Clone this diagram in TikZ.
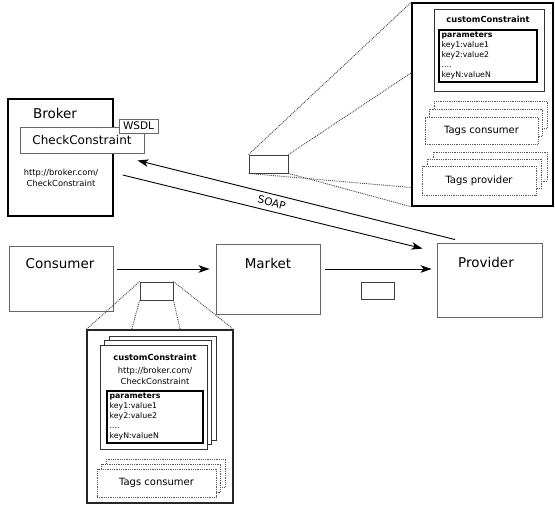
\documentclass[tikz,border=0pt]{standalone}
\usepackage{fontspec}
\setmainfont{DejaVu Sans}
\usepackage{tikz}
\usetikzlibrary{calc, positioning, arrows.meta}

\newcommand{\bigtxt}{\fontsize{13.5}{16}\selectfont}
\newcommand{\midtxt}{\fontsize{12}{14}\selectfont}
\newcommand{\labtxt}{\fontsize{10.5}{12}\selectfont}
\newcommand{\tagtxt}{\fontsize{10}{12}\selectfont}
\newcommand{\smalltxt}{\fontsize{8.3}{11}\selectfont}
\newcommand{\tinytxt}{\fontsize{7.8}{10}\selectfont}

\begin{document}
\begin{tikzpicture}[x = 1pt, y = -1pt,
		box/.style = {draw = black!60, line width = 0.9pt, inner sep = 0pt},
		frame/.style = {draw = black, line width = 1.5pt, inner sep = 0pt},
		card/.style = {draw = black!80, fill = white, line width = 0.9pt, inner sep = 0pt},
		tagcard/.style = {draw = black!65, fill = white, densely dotted, line width = 0.8pt, inner sep = 0pt, font = \tagtxt},
		zoomline/.style = {draw = black!75, densely dotted, line width = 0.9pt},
		flow/.style = {-{Stealth[length = 11pt, width = 7.5pt, inset = 3pt]}, line width = 0.9pt}]

			\useasboundingbox (0,0) rectangle (555,506);

			% broker
			\node [frame, minimum width = 105pt, minimum height = 117pt] (broker) at (60.5,157.5) {};
			\node [font = \bigtxt] (brokertxt) at (55,113) {Broker};
			\node [box, fill = white, minimum width = 124pt, minimum height = 26pt, font = \midtxt] (check) at (82,140) {CheckConstraint};
			\node [box, fill = white, minimum width = 39pt, minimum height = 14pt, font = \labtxt] (wsdl) at (138.5,126) {WSDL};
			\node [font = \smalltxt, align = center] (brokerurl) at (61,177.5) {http://broker.com/\\CheckConstraint};

			% consumer, market, provider
			\node [box, minimum width = 104pt, minimum height = 65pt] (consumer) at (61,278.5) {};
			\node [font = \bigtxt] (consumertxt) at (60,264) {Consumer};
			\node [box, minimum width = 104pt, minimum height = 70pt] (market) at (268,279) {};
			\node [font = \bigtxt] (markettxt) at (268,263) {Market};
			\node [box, minimum width = 105pt, minimum height = 74pt] (provider) at (489.5,280) {};
			\node [font = \bigtxt] (providertxt) at (486,262) {Provider};

			% messages
			\node [box, draw = black!75, minimum width = 33pt, minimum height = 18pt] (msgc) at (156.5,291) {};
			\node [box, draw = black!75, minimum width = 33pt, minimum height = 17pt] (msgm) at (377.5,290.5) {};
			\node [box, draw = black!75, minimum width = 39pt, minimum height = 18pt] (msgb) at (268.5,164) {};

			\draw [flow] ([shift = {(4,-9.5)}]consumer.east) -- ([shift = {(-6,-10)}]market.west);
			\draw [flow] ([shift = {(5,-10)}]market.east) -- ([shift = {(-5,-11)}]provider.west);
			\draw [flow] ([shift = {(-34.5,-3)}]provider.north) -- ([shift = {(-7,7)}]check.south east);
			\draw [flow] ([shift = {(9,17.5)}]broker.east) -- ([shift = {(-14,6)}]provider.north west)
				node [pos = 0.49, sloped, above = 1pt, font = \labtxt] (soap) {SOAP};

			% detail of the broker message
			\node [frame, minimum width = 141pt, minimum height = 203pt] (detailb) at (482.5,104.5) {};
			\node [card, minimum width = 110pt, minimum height = 82pt] (ccb) at (489,50) {};
			\node [font = \smalltxt\bfseries] (ccbtxt) at (488,19) {customConstraint};
			\node [card, draw = black, line width = 1.2pt, minimum width = 98pt, minimum height = 52pt] (parb) at (488,56) {};
			\node [anchor = north west, inner sep = 0pt, align = left, font = \tinytxt] (parbtxt) at ($(parb.north west)+(3,2)$)
				{\textbf{parameters}\\key1:value1\\key2:value2\\....\\keyN:valueN};

			\foreach \s in {2,1}
			{
				\draw [tagcard] (425+4.5*\s,117-8*\s) rectangle ++(113,27);
			}
			\node [tagcard, minimum width = 113pt, minimum height = 27pt] (tagsb) at (481.5,130.5) {Tags consumer};

			\foreach \s in {2,1}
			{
				\draw [tagcard] (422+5.5*\s,166-7*\s) rectangle ++(114,29);
			}
			\node [tagcard, minimum width = 114pt, minimum height = 29pt] (tagpb) at (479,180.5) {Tags provider};

			\draw [zoomline] (msgb.north west) -- (detailb.north west);
			\draw [zoomline] (msgb.north east) -- ($(detailb.north west)!0.345!(detailb.south west)$);
			\draw [zoomline] (msgb.south west) -- ($(detailb.north west)!0.906!(detailb.south west)$);
			\draw [zoomline] (msgb.south east) -- (detailb.south west);

			% detail of the consumer message
			\node [box, draw = black!85, line width = 1.2pt, minimum width = 146pt, minimum height = 173pt] (detailc) at (160,416.5) {};
			\foreach \s in {2,1}
			{
				\draw [card] (100+4.5*\s,345-4.5*\s) rectangle ++(107,104);
			}
			\node [card, minimum width = 107pt, minimum height = 104pt] (ccc) at (153.5,397) {};
			\node [font = \smalltxt\bfseries] (ccctxt) at (155,357) {customConstraint};
			\node [font = \smalltxt, align = center] (cccurl) at (155,375.5) {http://broker.com/\\CheckConstraint};
			\node [card, draw = black, line width = 1.2pt, minimum width = 96pt, minimum height = 52pt] (parc) at (155,417) {};
			\node [anchor = north west, inner sep = 0pt, align = left, font = \tinytxt] (parctxt) at ($(parc.north west)+(3,2)$)
				{\textbf{parameters}\\key1:value1\\key2:value2\\....\\keyN:valueN};

			\foreach \s in {2,1}
			{
				\draw [tagcard] (97+4.5*\s,469-5*\s) rectangle ++(119,28);
			}
			\node [tagcard, minimum width = 119pt, minimum height = 28pt] (tagsc) at (156.5,483) {Tags consumer};

			\draw [zoomline] (msgc.north west) -- (detailc.north west);
			\draw [zoomline] (msgc.south west) -- ($(detailc.north west)!0.308!(detailc.north east)$);
			\draw [zoomline] (msgc.south east) -- ($(detailc.north west)!0.637!(detailc.north east)$);
			\draw [zoomline] (msgc.north east) -- (detailc.north east);
		\end{tikzpicture}
\end{document}
